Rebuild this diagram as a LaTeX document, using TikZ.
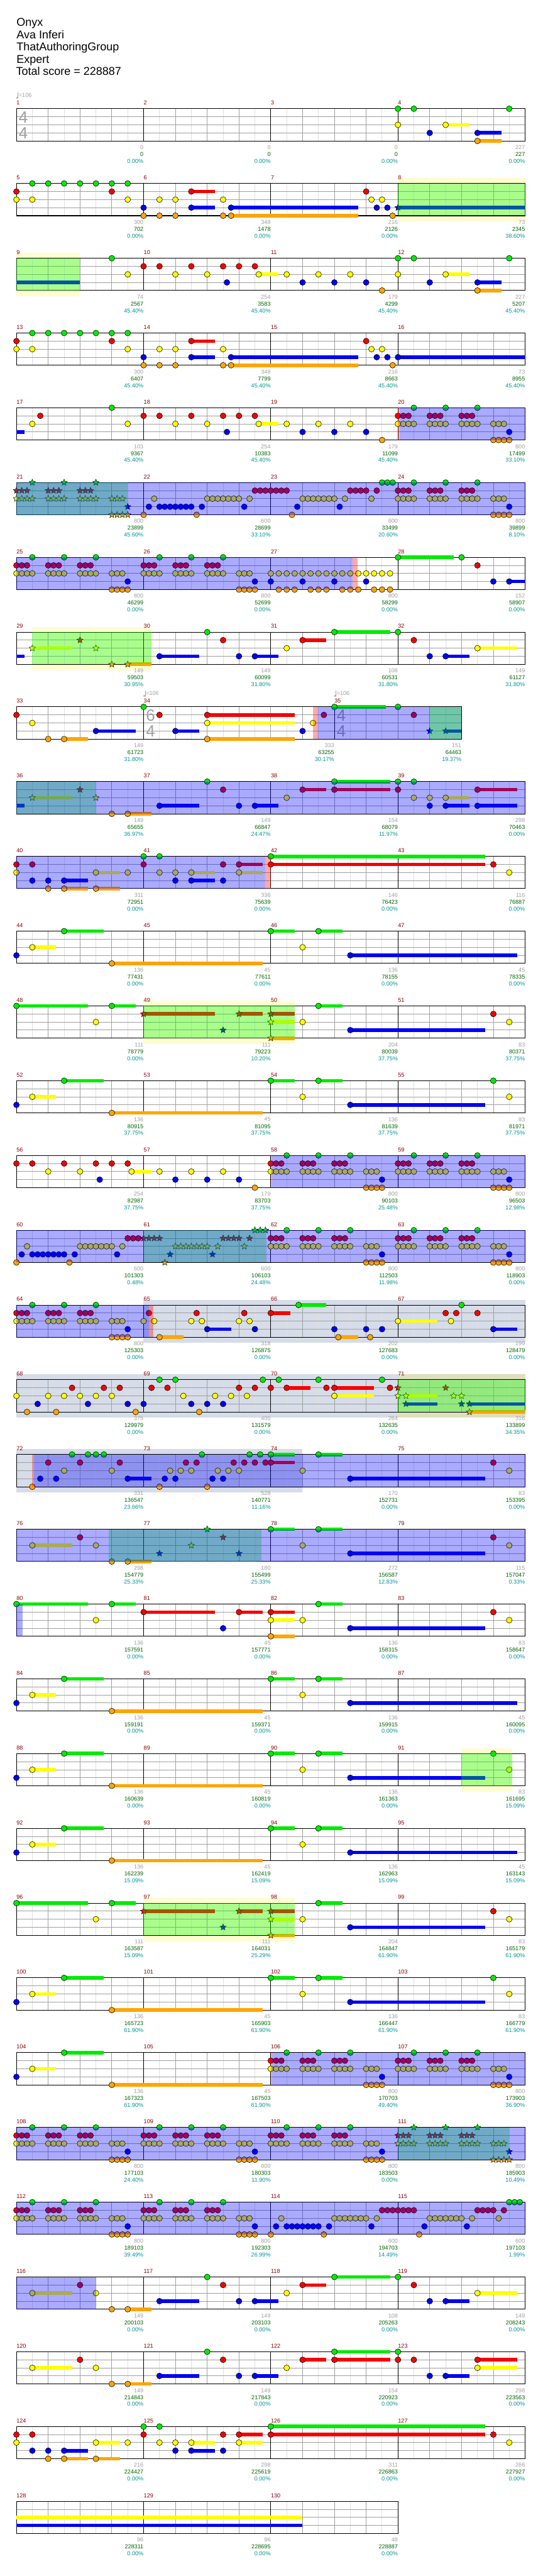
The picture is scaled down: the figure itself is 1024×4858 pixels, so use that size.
\documentclass[tikz,border=0pt]{standalone}
\usepackage{fontspec}
\setmainfont{Liberation Sans}
\usetikzlibrary{shapes.geometric}

\definecolor{ln0}{RGB}{0,235,0}
\definecolor{ln1}{RGB}{245,0,0}
\definecolor{ln2}{RGB}{255,255,0}
\definecolor{ln3}{RGB}{0,0,245}
\definecolor{ln4}{RGB}{255,165,0}
\definecolor{mnumc}{RGB}{139,0,0}
\definecolor{grayc}{RGB}{160,160,160}
\definecolor{greenc}{RGB}{0,100,0}
\definecolor{tealc}{RGB}{0,150,150}
\definecolor{eighthc}{RGB}{224,224,224}
\definecolor{bandc}{RGB}{214,220,232}

\newcommand\smallfont{\fontsize{8.1}{9.7}\selectfont}

\tikzset{
  chartrow/.style={shift={(31,205+141*#1)}, x=45pt, y=-11.4pt},
  note/.style={draw=black, line width=0.5pt},
  spnote/.style={star, star points=5, star point ratio=2.2, minimum size=9.5pt,
    inner sep=0pt, draw=black, line width=0.4pt},
  eighth/.style={draw=eighthc, line width=0.75pt},
  beat/.style={draw=grayc, line width=0.75pt},
  bar/.style={draw=black, line width=0.9pt},
  spzone/.style={fill=green, fill opacity=0.333},
  actzone/.style={fill=blue, fill opacity=0.333},
  redzone/.style={fill=red, fill opacity=0.333},
  spband/.style={fill=yellow, fill opacity=0.18},
  soloband/.style={fill=bandc},
  mnum/.style={anchor=west, inner sep=0pt, text=mnumc, font=\smallfont},
  sgray/.style={anchor=east, inner sep=0pt, text=grayc, font=\smallfont},
  sgreen/.style={anchor=east, inner sep=0pt, text=greenc, font=\smallfont},
  steal/.style={anchor=east, inner sep=0pt, text=tealc, font=\smallfont},
  tsig/.style={inner sep=0pt, text=grayc, font=\fontsize{23}{23}\selectfont},
  title/.style={anchor=base west, inner sep=0pt, font=\fontsize{16}{18}\selectfont}
}

% staff: number of beats, bar lines
\newcommand\staffgrid[2]{%
  \foreach \e in {0.5,1.5,...,#1} \draw[eighth] (\e,0) -- (\e,4);
  \foreach \e in {1,...,#1} \draw[beat] (\e,0) -- (\e,4);
  \foreach \l in {1,2,3} \draw[beat] (0,\l) -- (#1,\l);
  \foreach \e in {#2} \draw[bar] (\e,0) -- (\e,4);
  \draw[bar] (0,0) rectangle (#1,4);}
% notes, star notes, sustains (lane, beats)
\newcommand\nts[2]{\foreach \b in {#2} {\filldraw[note, fill=ln#1] (\b,#1) circle[radius=4.1pt];}}
\newcommand\sps[2]{\foreach \b in {#2} {\node[spnote, fill=ln#1] at (\b,#1) {};}}
\newcommand\sus[2]{\foreach \b/\d in {#2} {\fill[ln#1] (\b,#1-0.22) rectangle (\b+\d,#1+0.22);}}
% the repeated riff bar
\newcommand\riff[2][\nts]{%
  #1{0}{#2+.5,#2+1.5,#2+2.5}%
  #1{1}{#2,#2+.167,#2+.333,#2+1,#2+1.167,#2+1.333,#2+2,#2+2.167,#2+2.333}%
  #1{2}{#2,#2+.167,#2+.333,#2+.5,#2+1,#2+1.167,#2+1.333,#2+1.5,#2+2,#2+2.167,#2+2.333,#2+2.5,#2+3,#2+3.167,#2+3.333}%
  #1{3}{#2+3.5}%
  #1{4}{#2+3,#2+3.167,#2+3.333,#2+3.5}}
% two bars of runs
\newcommand\runs[1]{%
  \begin{scope}[shift={(#1,0)}]
  \nts{4}{0,1.667,4.667}
  \nts{3}{.167,.5,.667,.833,1,1.167,1.333,1.5,1.833,3.167,4.833,6.167}
  \nts{2}{.333,2,2.167,2.333,2.5,2.667,2.833,3,3.333,5,5.167,5.333,5.5,5.667,5.833,6,6.333,7.167}
  \nts{1}{3.5,3.667,3.833,4,4.167,4.333,4.5,6.5,6.667,6.833,7,7.333}
  \nts{0}{7.5,7.667,7.833}
  \end{scope}}
% quiet rows
\newcommand\quietA{%
  \sus{2}{.5/.75} \sus{0}{1.5/1.25,8/.75,9.5/.75} \sus{4}{3/4.75} \sus{3}{10.5/5.25}
  \nts{3}{0,10.5} \nts{2}{.5,9} \nts{0}{1.5,8,9.5} \nts{4}{3}}
\newcommand\quietB{%
  \sus{2}{.5/.75} \sus{0}{1.5/1.25,8/.75,9.5/.75} \sus{4}{3/4.75} \sus{3}{10.5/4.25}
  \nts{3}{0,10.5} \nts{2}{.5,9,15.5} \nts{0}{1.5,8,9.5,15} \nts{4}{3}}
\newcommand\quietC[1][\nts]{%
  \sus{0}{0/2.25,3/.75,9.5/.75} \sus{1}{4/2.25,7/.75,8/.75} \sus{2}{8/.75} \sus{4}{8/.75}
  \sus{3}{10.5/4.25}
  \nts{0}{0,3,9.5} \nts{2}{2.5,9,15.5}
  #1{1}{4,7,8} #1{3}{6.5} #1{2}{8} #1{4}{8}
  \nts{3}{10.5} \nts{1}{15}}
% chorus rows
\newcommand\chorus{%
  \sus{3}{4.5/1.25,7.5/.75,13.5/.75} \sus{2}{.5/1.25,14.5/1.25} \sus{4}{3.5/.75}
  \sus{1}{9/.75} \sus{0}{10/1.75}
  \nts{2}{.5,2.5} \nts{1}{2} \nts{4}{3,3.5}
  \nts{3}{4.5,7,7.5,13,13.5} \nts{0}{6,10,12} \nts{1}{6.5,9,12.5} \nts{2}{8.5,14.5}}
% labels
\newcommand\msr[2]{\node[mnum] at (#1,-0.72) {#2};}
\newcommand\msrs[4]{\msr{0}{#1}\msr{4}{#2}\msr{8}{#3}\msr{12}{#4}}
\newcommand\scr[4]{\node[sgray] at (#1,4.8) {#2}; \node[sgreen] at (#1,5.66) {#3}; \node[steal] at (#1,6.51) {#4\%};}
\newcommand\timesig[3]{\node[tsig, xshift=9.75pt] at (#1,1.05) {#2}; \node[tsig, xshift=9.75pt] at (#1,3.03) {#3};}
\newcommand\tempomark[1]{%
  \begin{scope}[shift={(#1,0)}, x=0.75pt, y=-0.75pt]
    \draw[grayc, line width=0.6pt] (3.2,-20.5) -- (3.2,-31);
    \fill[grayc] (1.6,-20.5) ellipse[x radius=1.7pt, y radius=1.3pt];
    \node[anchor=west, inner sep=0pt, text=grayc, font=\smallfont] at (4.2,-25) {=106};
  \end{scope}}

\begin{document}
\begin{tikzpicture}[x=0.75pt, y=-0.75pt]
\useasboundingbox (0,0) rectangle (1024,4858);
\fill[white] (0,0) rectangle (1024,4858);

\node[title] (song) at (31,49.5) {Onyx};
\node[title] (artist) at (31,72.6) {Ava Inferi};
\node[title] (charter) at (31,95.7) {ThatAuthoringGroup};
\node[title] (diff) at (31,118.8) {Expert};
\node[title] (total) at (30,141.9) {Total score = 228887};

% measures 1-4
\begin{scope}[chartrow=0]
  \staffgrid{16}{4,8,12}
  \timesig{0}{4}{4}
  \sus{2}{13.5/.75} \sus{3}{14.5/.75} \sus{4}{14.5/.75}
  \nts{0}{12,12.5,15.5} \nts{2}{12,13.5} \nts{3}{13,14.5} \nts{4}{14.5}
  \tempomark{0}
  \msrs{1}{2}{3}{4}
  \scr{4}{0}{0}{0.00}\scr{8}{0}{0}{0.00}\scr{12}{0}{0}{0.00}\scr{16}{227}{227}{0.00}
\end{scope}

% measures 5-8
\begin{scope}[chartrow=1]
  \fill[spband] (12,-0.66) rectangle (16,4.72);
  \staffgrid{16}{4,8,12}
  \sus{1}{5.5/.75} \sus{3}{5.5/.75,6.75/4,12/4} \sus{4}{6.75/4}
  \nts{0}{.5,1,1.5,2,2.5,3,3.5}
  \nts{1}{0,3,5.5,11}
  \nts{2}{0,.5,3.5,4.5,5,6.5,11.167,11.5}
  \nts{3}{4,5.5,6.75,11.333,11.667} \sps{3}{12}
  \nts{4}{4,4.5,5,6.5,6.75,11.833}
  \fill[spzone] (12,0) rectangle (16,4);
  \msrs{5}{6}{7}{8}
  \scr{4}{300}{702}{0.00}\scr{8}{348}{1478}{0.00}\scr{12}{216}{2126}{0.00}\scr{16}{73}{2345}{38.60}
\end{scope}

% measures 9-12
\begin{scope}[chartrow=2]
  \fill[spband] (0,-0.66) rectangle (2,4.72);
  \staffgrid{16}{4,8,12}
  \sus{3}{0/2,14.5/.75} \sus{2}{7.62/.62,13.5/.75} \sus{4}{14.5/.75}
  \nts{0}{3,12,12.5,15.5}
  \nts{1}{4,4.5,5.5,6.5,7,7.5}
  \nts{2}{3.5,5,6,7.62,8.5,9.5,10.5,12,13.5}
  \nts{3}{6.62,9,10,11,13,14.5}
  \nts{4}{11.5,14.5}
  \fill[spzone] (0,0) rectangle (2,4);
  \msrs{9}{10}{11}{12}
  \scr{4}{74}{2567}{45.40}\scr{8}{254}{3583}{45.40}\scr{12}{179}{4299}{45.40}\scr{16}{227}{5207}{45.40}
\end{scope}

% measures 13-16
\begin{scope}[chartrow=3]
  \staffgrid{16}{4,8,12}
  \sus{1}{5.5/.75} \sus{3}{5.5/.75,6.75/4,12/4} \sus{4}{6.75/4}
  \nts{0}{.5,1,1.5,2,2.5,3,3.5}
  \nts{1}{0,3,5.5,11}
  \nts{2}{0,.5,3.5,4.5,5,6.5,11.167,11.5}
  \nts{3}{4,5.5,6.75,11.333,11.667,12}
  \nts{4}{4,4.5,5,6.5,6.75,11.833}
  \msrs{13}{14}{15}{16}
  \scr{4}{300}{6407}{45.40}\scr{8}{348}{7799}{45.40}\scr{12}{216}{8663}{45.40}\scr{16}{73}{8955}{45.40}
\end{scope}

% measures 17-20
\begin{scope}[chartrow=4]
  \staffgrid{16}{4,8,12}
  \sus{3}{0/.25} \sus{2}{7.62/.62}
  \nts{0}{3}
  \nts{1}{.75,4,4.5,5.5,6.5,7,7.5}
  \nts{2}{.5,3.5,5,6,7.62,8.5,9.5,10.5}
  \nts{3}{6.62,9,10,11}
  \nts{4}{11.5}
  \riff{12}
  \fill[redzone] (12,0) rectangle (12.06,4);
  \fill[actzone] (12.06,0) rectangle (16,4);
  \msrs{17}{18}{19}{20}
  \scr{4}{103}{9367}{45.40}\scr{8}{254}{10383}{45.40}\scr{12}{179}{11099}{45.40}\scr{16}{800}{17499}{33.10}
\end{scope}

% measures 21-24
\begin{scope}[chartrow=5]
  \staffgrid{16}{4,8,12}
  \riff[\sps]{0}
  \runs{4}
  \riff{12}
  \fill[spzone] (0,0) rectangle (3.5,4);
  \fill[actzone] (0,0) rectangle (16,4);
  \msrs{21}{22}{23}{24}
  \scr{4}{800}{23899}{45.60}\scr{8}{600}{28699}{33.10}\scr{12}{600}{33499}{20.60}\scr{16}{800}{39899}{8.10}
\end{scope}

% measures 25-28
\begin{scope}[chartrow=6]
  \staffgrid{16}{4,8,12}
  \sus{0}{12/1.75} \sus{3}{15.5/.5}
  \riff{0} \riff{4}
  \nts{2}{8,8.25,...,11.75}
  \nts{3}{8,9,10,11}
  \nts{4}{8.25,8.5,8.75,9.25,9.5,9.75,10.25,10.5,10.75,11.25,11.5,11.75}
  \nts{0}{12,14} \nts{1}{14.5} \nts{3}{15,15.5}
  \fill[actzone] (0,0) rectangle (10.58,4);
  \fill[redzone] (10.58,0) rectangle (10.74,4);
  \msrs{25}{26}{27}{28}
  \scr{4}{800}{46299}{0.00}\scr{8}{800}{52699}{0.00}\scr{12}{800}{58299}{0.00}\scr{16}{152}{58907}{0.00}
\end{scope}

% measures 29-32
\begin{scope}[chartrow=7]
  \fill[spband] (0.5,-0.66) rectangle (4.25,4.72);
  \staffgrid{16}{4,8,12}
  \sus{3}{0/.25,4.5/1.25,7.5/.75,13.5/.75} \sus{2}{.5/1.25,14.5/1.25} \sus{4}{3.5/.75}
  \sus{1}{9/.75} \sus{0}{10/1.75}
  \sps{2}{.5,2.5} \sps{1}{2} \sps{4}{3,3.5}
  \nts{3}{4.5,7,7.5,13,13.5}
  \nts{0}{6,10,12}
  \nts{1}{6.5,9,12.5}
  \nts{2}{8.5,14.5}
  \fill[spzone] (0.5,0) rectangle (4.25,4);
  \msrs{29}{30}{31}{32}
  \scr{4}{149}{59503}{30.95}\scr{8}{149}{60099}{31.80}\scr{12}{108}{60531}{31.80}\scr{16}{149}{61127}{31.80}
\end{scope}

% measures 33-35
\begin{scope}[chartrow=8]
  \staffgrid{14}{4,10}
  \timesig{4}{6}{4} \timesig{10}{4}{4}
  \sus{1}{6/2.75} \sus{2}{6/2.75} \sus{4}{1.5/.75,6/2.75} \sus{3}{2.5/1.25,5/.75,13.5/.5}
  \sus{0}{10/1.63}
  \nts{1}{0,4.5,6,9.67,12.5}
  \nts{2}{.5,6,9.33}
  \nts{4}{1,1.5,6}
  \nts{3}{2.5,5,9}
  \nts{0}{4,10,12}
  \sps{3}{13,13.5}
  \fill[redzone] (9.33,0) rectangle (9.47,4);
  \fill[actzone] (9.47,0) rectangle (14,4);
  \fill[spzone] (13,0) rectangle (14,4);
  \tempomark{4} \tempomark{10}
  \msr{0}{33}\msr{4}{34}\msr{10}{35}
  \scr{4}{149}{61723}{31.80}\scr{10}{333}{63255}{30.17}\scr{14}{151}{64463}{19.37}
\end{scope}

% measures 36-39
\begin{scope}[chartrow=9]
  \staffgrid{16}{4,8,12}
  \sus{3}{0/.25,4.5/1.25,7.5/.75,13.5/.75,14.5/1.25} \sus{2}{.5/1.25,13.5/.75} \sus{4}{3.5/.75}
  \sus{0}{10/1.75} \sus{1}{9/.75,10/1.75,14.5/1.25}
  \sps{2}{.5,2.5} \sps{1}{2}
  \nts{4}{3,3.5}
  \nts{3}{4.5,7,7.5,13,13.5,14.5}
  \nts{0}{6,10,12,12.5}
  \nts{1}{6.5,9,10,12,14.5}
  \nts{2}{8.5,12.5,13,13.5}
  \fill[spzone] (0,0) rectangle (2.5,4);
  \fill[actzone] (0,0) rectangle (16,4);
  \msrs{36}{37}{38}{39}
  \scr{4}{149}{65655}{36.97}\scr{8}{149}{66847}{24.47}\scr{12}{154}{68079}{11.97}\scr{16}{298}{70463}{0.00}
\end{scope}

% measures 40-43
\begin{scope}[chartrow=10]
  \staffgrid{16}{4,8,12}
  \sus{1}{7/.75,8/6.75} \sus{2}{2.5/.75,5.5/.75,7/.75} \sus{3}{1.5/.75,5.5/.75}
  \sus{4}{1.5/.75,2.5/.75} \sus{0}{8/6.75}
  \nts{1}{0,.5,4,6.5,7,8,15}
  \nts{2}{0,2.5,3.5,4.5,5,5.5,7,15.5}
  \nts{3}{.5,1,1.5,5,5.5,6.5}
  \nts{4}{1,1.5,2.5}
  \nts{0}{4,4.5,8}
  \fill[actzone] (0,0) rectangle (7.82,4);
  \fill[redzone] (7.82,0) rectangle (8,4);
  \msrs{40}{41}{42}{43}
  \scr{4}{311}{72951}{0.00}\scr{8}{336}{75639}{0.00}\scr{12}{146}{76423}{0.00}\scr{16}{116}{76887}{0.00}
\end{scope}

% measures 44-47
\begin{scope}[chartrow=11]
  \staffgrid{16}{4,8,12}
  \quietA
  \msrs{44}{45}{46}{47}
  \scr{4}{136}{77431}{0.00}\scr{8}{45}{77611}{0.00}\scr{12}{136}{78155}{0.00}\scr{16}{45}{78335}{0.00}
\end{scope}

% measures 48-51
\begin{scope}[chartrow=12]
  \fill[spband] (4,-0.66) rectangle (8.75,4.72);
  \staffgrid{16}{4,8,12}
  \quietC[\sps]
  \fill[spzone] (4,0) rectangle (8.75,4);
  \msrs{48}{49}{50}{51}
  \scr{4}{111}{78779}{0.00}\scr{8}{111}{79223}{10.20}\scr{12}{204}{80039}{37.75}\scr{16}{83}{80371}{37.75}
\end{scope}

% measures 52-55
\begin{scope}[chartrow=13]
  \staffgrid{16}{4,8,12}
  \quietB
  \msrs{52}{53}{54}{55}
  \scr{4}{136}{80915}{37.75}\scr{8}{45}{81095}{37.75}\scr{12}{136}{81639}{37.75}\scr{16}{83}{81971}{37.75}
\end{scope}

% measures 56-59
\begin{scope}[chartrow=14]
  \staffgrid{16}{4,8,12}
  \sus{2}{3.62/.62}
  \nts{1}{0,.5,1.5,2.5,3,3.5}
  \nts{2}{1,2,3.62,4.5,5.5,6.5}
  \nts{3}{2.62,5,6,7}
  \nts{4}{7.5}
  \riff{8} \riff{12}
  \fill[redzone] (8,0) rectangle (8.05,4);
  \fill[actzone] (8.05,0) rectangle (16,4);
  \msrs{56}{57}{58}{59}
  \scr{4}{254}{82987}{37.75}\scr{8}{179}{83703}{37.75}\scr{12}{800}{90103}{25.48}\scr{16}{800}{96503}{12.98}
\end{scope}

% measures 60-63
\begin{scope}[chartrow=15]
  \staffgrid{16}{4,8,12}
  \nts{4}{0,1.667}
  \nts{2}{.333,2,2.167,2.333,2.5,2.667,2.833,3,3.333}
  \nts{3}{.167,.5,.667,.833,1,1.167,1.333,1.5,1.833,3.167}
  \nts{1}{3.5,3.667,3.833}
  \sps{1}{4,4.167,4.333,4.5,6.5,6.667,6.833,7,7.333}
  \sps{4}{4.667} \sps{3}{4.833,6.167}
  \sps{2}{5,5.167,5.333,5.5,5.667,5.833,6,6.333,7.167}
  \sps{0}{7.5,7.667,7.833}
  \riff{8} \riff{12}
  \fill[spzone] (4,0) rectangle (7.86,4);
  \fill[actzone] (0,0) rectangle (16,4);
  \msrs{60}{61}{62}{63}
  \scr{4}{600}{101303}{0.48}\scr{8}{600}{106103}{24.48}\scr{12}{800}{112503}{11.98}\scr{16}{800}{118903}{0.00}
\end{scope}

% measures 64-67
\begin{scope}[chartrow=16]
  \fill[soloband] (4,-0.66) rectangle (16,4.7);
  \staffgrid{16}{4,8,12}
  \sus{4}{4.5/.75,10.125/.625} \sus{3}{6/.75,15/.75} \sus{1}{8/.625} \sus{0}{8.875/.875}
  \sus{2}{12/1.25}
  \riff{0}
  \nts{2}{4,4.333} \nts{1}{4.167}
  \nts{4}{4.5}
  \nts{2}{5.5,5.833,7,7.333} \nts{1}{5.667,7.167} \nts{3}{6,7.5}
  \nts{1}{8} \nts{0}{8.875}
  \nts{3}{10,11,11.5} \nts{4}{10.125,11.125}
  \nts{2}{12,13.667} \nts{1}{13.5,13.833,14.5} \nts{0}{14} \nts{3}{15}
  \fill[actzone] (0,0) rectangle (4.16,4);
  \fill[redzone] (4.16,0) rectangle (4.3,4);
  \msrs{64}{65}{66}{67}
  \scr{4}{800}{125303}{0.00}\scr{8}{318}{126875}{0.00}\scr{12}{202}{127683}{0.00}\scr{16}{199}{128479}{0.00}
\end{scope}

% measures 68-71
\begin{scope}[chartrow=17]
  \fill[soloband] (0,-0.66) rectangle (16,4.7);
  \fill[spband] (12,-0.66) rectangle (16,4.7);
  \staffgrid{16}{4,8,12}
  \sus{1}{8.5/.75,10/1.25} \sus{2}{10/1.25,12.25/1} \sus{3}{12.25/1,14.25/1.75} \sus{4}{14.25/1.75}
  \nts{2}{0,1,1.5,2,2.5,3} \nts{4}{.333,1.25,3.75}
  \nts{3}{.667,2.25,3.5,4} \nts{1}{1.75,2.75,3.25}
  \nts{0}{4.5,5} \nts{1}{4.25,4.75} \nts{2}{5.25,6.25,6.75,7.25}
  \nts{3}{5.5,6,6.5} \nts{4}{5.75} \nts{1}{7,7.5} \nts{0}{7.75,8.25}
  \nts{1}{8,8.5,9.75,10,11.75} \nts{0}{9.5,11.5} \nts{2}{10}
  \sps{1}{12,13.5} \sps{2}{12,12.25,13.75,14} \sps{3}{12.25,14,14.25} \sps{4}{14.25}
  \fill[spzone] (12,0) rectangle (16,4);
  \msrs{68}{69}{70}{71}
  \scr{4}{375}{129979}{0.00}\scr{8}{400}{131579}{0.00}\scr{12}{264}{132635}{0.00}\scr{16}{316}{133899}{34.35}
\end{scope}

% measures 72-75
\begin{scope}[chartrow=18]
  \fill[soloband] (0,-0.66) rectangle (9,4.7);
  \staffgrid{16}{4,8,12}
  \sus{3}{3.5/.75,10.5/4.25} \sus{1}{8/.75} \sus{0}{8/.75,9.5/.75}
  \nts{4}{.5,4.5,6}
  \nts{3}{.75,1.25,3.5,4.667,5,6.167,6.5,10.5}
  \nts{1}{1,2,3.25,5.333,5.667,6.833,7.167,7.5,7.833,8,15}
  \nts{2}{1.5,3,4.833,5.167,5.5,6.333,6.667,7,9,15.5}
  \nts{0}{1.75,2.25,2.5,2.75,5.833,7.333,7.667,8,9.5}
  \fill[redzone] (.5,0) rectangle (.56,4);
  \fill[actzone] (.56,0) rectangle (16,4);
  \msrs{72}{73}{74}{75}
  \scr{4}{331}{136547}{23.66}\scr{8}{528}{140771}{11.16}\scr{12}{170}{152731}{0.00}\scr{16}{83}{153395}{0.00}
\end{scope}

% measures 76-79
\begin{scope}[chartrow=19]
  \staffgrid{16}{4,8,12}
  \sus{2}{.5/1.25} \sus{4}{3.5/.75} \sus{0}{8/.75,9.5/.75} \sus{3}{10.5/4.25}
  \nts{2}{.5,2.5} \nts{1}{2} \nts{4}{3,3.5}
  \sps{3}{4.5,7} \sps{0}{6} \sps{1}{6.5} \sps{2}{5.5}
  \nts{0}{8,9.5} \nts{2}{9,15.5} \nts{3}{10.5} \nts{1}{15}
  \fill[spzone] (2.9,0) rectangle (7.7,4);
  \fill[actzone] (0,0) rectangle (16,4);
  \msrs{76}{77}{78}{79}
  \scr{4}{298}{154779}{25.33}\scr{8}{180}{155499}{25.33}\scr{12}{272}{156587}{12.83}\scr{16}{115}{157047}{0.33}
\end{scope}

% measures 80-83
\begin{scope}[chartrow=20]
  \staffgrid{16}{4,8,12}
  \quietC
  \fill[actzone] (0,0) rectangle (0.2,4);
  \msrs{80}{81}{82}{83}
  \scr{4}{136}{157591}{0.00}\scr{8}{45}{157771}{0.00}\scr{12}{136}{158315}{0.00}\scr{16}{83}{158647}{0.00}
\end{scope}

% measures 84-87
\begin{scope}[chartrow=21]
  \staffgrid{16}{4,8,12}
  \quietA
  \msrs{84}{85}{86}{87}
  \scr{4}{136}{159191}{0.00}\scr{8}{45}{159371}{0.00}\scr{12}{136}{159915}{0.00}\scr{16}{45}{160095}{0.00}
\end{scope}

% measures 88-91
\begin{scope}[chartrow=22]
  \fill[spband] (14,-0.66) rectangle (15.6,4.72);
  \staffgrid{16}{4,8,12}
  \quietB
  \fill[spzone] (14,0) rectangle (15.6,4);
  \msrs{88}{89}{90}{91}
  \scr{4}{136}{160639}{0.00}\scr{8}{45}{160819}{0.00}\scr{12}{136}{161363}{0.00}\scr{16}{83}{161695}{15.09}
\end{scope}

% measures 92-95
\begin{scope}[chartrow=23]
  \staffgrid{16}{4,8,12}
  \quietA
  \msrs{92}{93}{94}{95}
  \scr{4}{136}{162239}{15.09}\scr{8}{45}{162419}{15.09}\scr{12}{136}{162963}{15.09}\scr{16}{45}{163143}{15.09}
\end{scope}

% measures 96-99
\begin{scope}[chartrow=24]
  \fill[spband] (4,-0.66) rectangle (8.75,4.72);
  \staffgrid{16}{4,8,12}
  \quietC[\sps]
  \fill[spzone] (4,0) rectangle (8.75,4);
  \msrs{96}{97}{98}{99}
  \scr{4}{111}{163587}{15.09}\scr{8}{111}{164031}{25.29}\scr{12}{204}{164847}{61.90}\scr{16}{83}{165179}{61.90}
\end{scope}

% measures 100-103
\begin{scope}[chartrow=25]
  \staffgrid{16}{4,8,12}
  \quietB
  \msrs{100}{101}{102}{103}
  \scr{4}{136}{165723}{61.90}\scr{8}{45}{165903}{61.90}\scr{12}{136}{166447}{61.90}\scr{16}{83}{166779}{61.90}
\end{scope}

% measures 104-107
\begin{scope}[chartrow=26]
  \staffgrid{16}{4,8,12}
  \sus{2}{.5/.75} \sus{0}{1.5/1.25} \sus{4}{3/4.75}
  \nts{3}{0} \nts{2}{.5} \nts{0}{1.5} \nts{4}{3}
  \riff{8} \riff{12}
  \fill[redzone] (8,0) rectangle (8.05,4);
  \fill[actzone] (8.05,0) rectangle (16,4);
  \msrs{104}{105}{106}{107}
  \scr{4}{136}{167323}{61.90}\scr{8}{45}{167503}{61.90}\scr{12}{800}{170703}{49.40}\scr{16}{800}{173903}{36.90}
\end{scope}

% measures 108-111
\begin{scope}[chartrow=27]
  \staffgrid{16}{4,8,12}
  \riff{0} \riff{4} \riff{8} \riff[\sps]{12}
  \fill[spzone] (12,0) rectangle (15.5,4);
  \fill[actzone] (0,0) rectangle (16,4);
  \msrs{108}{109}{110}{111}
  \scr{4}{800}{177103}{24.40}\scr{8}{800}{180303}{11.90}\scr{12}{800}{183503}{0.00}\scr{16}{800}{185903}{10.49}
\end{scope}

% measures 112-115
\begin{scope}[chartrow=28]
  \staffgrid{16}{4,8,12}
  \riff{0} \riff{4}
  \runs{8}
  \fill[actzone] (0,0) rectangle (16,4);
  \msrs{112}{113}{114}{115}
  \scr{4}{800}{189103}{39.49}\scr{8}{800}{192303}{26.99}\scr{12}{600}{194703}{14.49}\scr{16}{600}{197103}{1.99}
\end{scope}

% measures 116-119
\begin{scope}[chartrow=29]
  \staffgrid{16}{4,8,12}
  \chorus
  \fill[actzone] (0,0) rectangle (2.5,4);
  \msrs{116}{117}{118}{119}
  \scr{4}{149}{200103}{0.00}\scr{8}{149}{203103}{0.00}\scr{12}{108}{205263}{0.00}\scr{16}{149}{208243}{0.00}
\end{scope}

% measures 120-123
\begin{scope}[chartrow=30]
  \staffgrid{16}{4,8,12}
  \chorus
  \sus{1}{10/1.75,14.5/1.25} \nts{1}{10,12,14.5}
  \msrs{120}{121}{122}{123}
  \scr{4}{149}{214843}{0.00}\scr{8}{149}{217843}{0.00}\scr{12}{154}{220923}{0.00}\scr{16}{298}{223563}{0.00}
\end{scope}

% measures 124-127
\begin{scope}[chartrow=31]
  \staffgrid{16}{4,8,12}
  \sus{1}{7/.75,8/6.75} \sus{2}{2.5/.75,5.5/.75,7/.75} \sus{3}{1.5/.75,5.5/.75}
  \sus{4}{1.5/.75,2.5/.75} \sus{0}{8/6.75}
  \nts{1}{0,.5,4,6.5,7,8,15}
  \nts{2}{0,2.5,3.5,4.5,5,5.5,7,15.5}
  \nts{3}{.5,1,1.5,5,5.5,6.5}
  \nts{4}{1,1.5,2.5}
  \nts{0}{4,4.5,8}
  \msrs{124}{125}{126}{127}
  \scr{4}{216}{224427}{0.00}\scr{8}{298}{225619}{0.00}\scr{12}{311}{226863}{0.00}\scr{16}{266}{227927}{0.00}
\end{scope}

% measures 128-130
\begin{scope}[chartrow=32]
  \staffgrid{12}{4,8}
  \sus{2}{0/9} \sus{3}{0/9}
  \msr{0}{128}\msr{4}{129}\msr{8}{130}
  \scr{4}{96}{228311}{0.00}\scr{8}{96}{228695}{0.00}\scr{12}{48}{228887}{0.00}
\end{scope}
\end{tikzpicture}
\end{document}
